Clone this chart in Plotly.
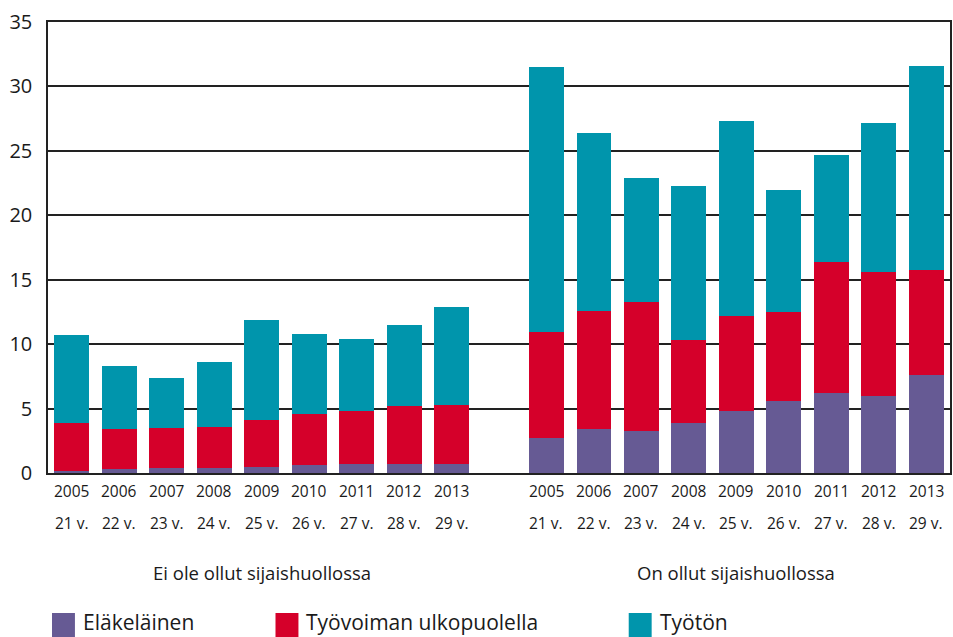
import plotly.graph_objects as go

years = ["2005", "2006", "2007", "2008", "2009", "2010", "2011", "2012", "2013"]
ages = ["21 v.", "22 v.", "23 v.", "24 v.", "25 v.", "26 v.", "27 v.", "28 v.", "29 v."]
groups = ["Ei ole ollut sijaishuollossa", "On ollut sijaishuollossa"]

# Left group: Ei ole ollut sijaishuollossa
elakelainen_ei = [0.15, 0.3, 0.36, 0.36, 0.44, 0.6, 0.67, 0.73, 0.73]
ulkopuolella_ei = [3.7, 3.08, 3.13, 3.18, 3.67, 3.98, 4.12, 4.47, 4.53]
tyoton_ei = [6.88, 4.94, 3.88, 5.08, 7.79, 6.22, 5.62, 6.3, 7.65]

# Right group: On ollut sijaishuollossa
elakelainen_on = [2.7, 3.39, 3.23, 3.85, 4.78, 5.56, 6.18, 5.95, 7.58]
ulkopuolella_on = [8.23, 9.18, 10.07, 6.45, 7.38, 6.91, 10.18, 9.63, 8.16]
tyoton_on = [20.57, 13.8, 9.6, 11.97, 15.14, 9.5, 8.31, 11.56, 15.86]

series_names = ["Eläkeläinen", "Työvoiman ulkopuolella", "Työtön"]
colors = ["#665A94", "#D5002A", "#0095AC"]

n = len(years)
x_left = list(range(n))
x_right = [i + n + 1 for i in range(n)]
xs = x_left + x_right

series_values = [
    elakelainen_ei + elakelainen_on,
    ulkopuolella_ei + ulkopuolella_on,
    tyoton_ei + tyoton_on,
]

font_family = "Open Sans, Noto Sans, sans-serif"
text_color = "#1a1a1a"

fig = go.Figure()
for name, vals, col in zip(series_names, series_values, colors):
    fig.add_trace(go.Bar(x=xs, y=vals, name=name, marker_color=col,
                         marker_line_width=0, width=0.735, showlegend=False))

fig.update_layout(
    barmode="stack",
    width=953, height=637,
    margin=dict(l=48, r=1, t=22, b=164),
    plot_bgcolor="white", paper_bgcolor="white",
    font=dict(family=font_family, color=text_color),
    showlegend=False,
)
fig.update_xaxes(range=[-0.5, 2 * n + 0.5], showticklabels=False, ticks="",
                 showgrid=False, showline=True, linecolor="#222", linewidth=1.5,
                 mirror=True, zeroline=False)
fig.update_yaxes(range=[0, 35], dtick=5, tick0=0, showgrid=True, gridcolor="#222",
                 gridwidth=1.5, showline=True, linecolor="#222", linewidth=1.5,
                 mirror=True, zeroline=False, ticks="", ticklabelstandoff=10,
                 tickfont=dict(size=20, color=text_color, family=font_family))

annotations = []
plot_h = 451.0
def paper_y(px):
    return (473 - px) / plot_h

for i, x in enumerate(xs):
    annotations.append(dict(x=x, y=paper_y(491), xref="x", yref="paper",
                            text=years[i % n], showarrow=False,
                            font=dict(size=15.5, color=text_color), yanchor="middle"))
    annotations.append(dict(x=x, y=paper_y(523), xref="x", yref="paper",
                            text=ages[i % n], showarrow=False,
                            font=dict(size=15.5, color=text_color), yanchor="middle"))

annotations.append(dict(x=(x_left[0] + x_left[-1]) / 2, y=paper_y(572), xref="x", yref="paper",
                        text=groups[0], showarrow=False, font=dict(size=18.5, color=text_color),
                        yanchor="middle"))
annotations.append(dict(x=(x_right[0] + x_right[-1]) / 2, y=paper_y(572), xref="x", yref="paper",
                        text=groups[1], showarrow=False, font=dict(size=18.5, color=text_color),
                        yanchor="middle"))

# Legend (manual squares + labels)
legend_x_px = [52, 276, 630]
shapes = []
for name, col, lx in zip(series_names, colors, legend_x_px):
    shapes.append(dict(type="rect", xref="paper", yref="paper",
                       x0=(lx - 48) / 904, x1=(lx + 23 - 48) / 904,
                       y0=paper_y(637), y1=paper_y(613),
                       fillcolor=col, line=dict(width=0)))
    annotations.append(dict(x=(lx + 30 - 48) / 904, y=paper_y(621.5), xref="paper", yref="paper",
                            text=name, showarrow=False, xanchor="left", yanchor="middle",
                            borderpad=0,
                            font=dict(size=21, color=text_color)))

fig.update_layout(annotations=annotations, shapes=shapes)
fig.write_html("out.html",
               config={"displayModeBar": False},
               post_script="document.body.style.margin='0';document.body.style.padding='0';"
                           "document.body.style.overflow='hidden';")
